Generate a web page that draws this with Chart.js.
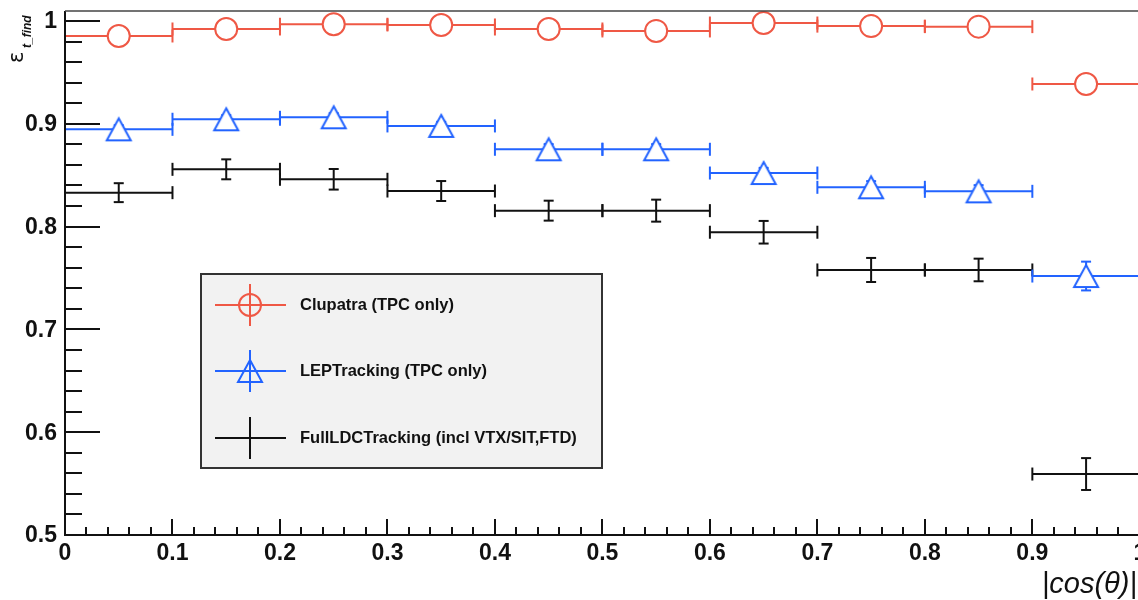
<!DOCTYPE html>
<html lang="en">

<head>
    <meta charset="UTF-8">
    <title>tracking efficiency vs |cos(theta)|</title>
    <style>
        body { margin: 0; background: #ffffff; }
    </style>
</head>

<body>
    <canvas id="myChart" width="1138" height="600"></canvas>

    <script src="https://cdn.jsdelivr.net/npm/chart.js"></script>
    <script>
        // bin 중심 |cos(theta)|, bin 폭 0.1
        let v_binCenters = [0.05, 0.15, 0.25, 0.35, 0.45, 0.55, 0.65, 0.75, 0.85, 0.95];
        let v_binHalf = 0.05;

        let v_clupatra = [0.9854, 0.9922, 0.9968, 0.9961, 0.9922, 0.9903, 0.9980, 0.9950, 0.9945, 0.9387];
        let v_clupatraErr = [0.003, 0.003, 0.003, 0.003, 0.003, 0.003, 0.003, 0.003, 0.003, 0.004];

        let v_lep = [0.8946, 0.9044, 0.9063, 0.8979, 0.8752, 0.8752, 0.8521, 0.8382, 0.8343, 0.7519];
        let v_lepErr = [0.004, 0.004, 0.004, 0.004, 0.005, 0.005, 0.005, 0.006, 0.006, 0.014];

        let v_fullLdc = [0.8330, 0.8557, 0.8460, 0.8346, 0.8155, 0.8155, 0.7945, 0.7578, 0.7578, 0.5593];
        let v_fullLdcErr = [0.0092, 0.0097, 0.0100, 0.0097, 0.0097, 0.0107, 0.0110, 0.0117, 0.0110, 0.0155];

        let v_xTickLabels = ["0", "0.1", "0.2", "0.3", "0.4", "0.5", "0.6", "0.7", "0.8", "0.9", "1"];
        let v_yTickLabels = ["0.5", "0.6", "0.7", "0.8", "0.9", "1"];

        let v_legendLabels = ["Clupatra (TPC only)", "LEPTracking (TPC only)", "FullLDCTracking (incl VTX/SIT,FTD)"];
        let v_colors = ["#ef5845", "#2263ff", "#111111"];

        // 삼각형 마커 (속 흰색)
        function makeTriangle(color, fill) {
            let c = document.createElement("canvas");
            c.width = 30; c.height = 30;
            let t = c.getContext("2d");
            t.beginPath();
            t.moveTo(15, 4);
            t.lineTo(27, 26);
            t.lineTo(3, 26);
            t.closePath();
            if (fill) { t.fillStyle = fill; t.fill(); }
            t.strokeStyle = color;
            t.lineWidth = 2;
            t.stroke();
            return c;
        }
        let v_triangle = makeTriangle(v_colors[1], "#ffffff");
        let v_triangleLegend = makeTriangle(v_colors[1], null);

        function toPoints(vals) {
            let arr = [];
            for (let i = 0; i < vals.length; i++) {
                arr.push({ x: v_binCenters[i], y: vals[i] });
            }
            return arr;
        }

        function line(ctx, x1, y1, x2, y2) {
            ctx.beginPath();
            ctx.moveTo(x1, y1);
            ctx.lineTo(x2, y2);
            ctx.stroke();
        }

        // x, y 에러바 (bin 끝 눈금 포함)
        function drawErrors(chart, vals, errs, color) {
            let ctx = chart.ctx;
            let xs = chart.scales.x;
            let ys = chart.scales.y;
            ctx.save();
            ctx.strokeStyle = color;
            ctx.lineWidth = 2;
            for (let i = 0; i < vals.length; i++) {
                let px = xs.getPixelForValue(v_binCenters[i]);
                let x1 = xs.getPixelForValue(v_binCenters[i] - v_binHalf);
                let x2 = xs.getPixelForValue(v_binCenters[i] + v_binHalf);
                let py = ys.getPixelForValue(vals[i]);
                let pt = ys.getPixelForValue(vals[i] + errs[i]);
                let pb = ys.getPixelForValue(vals[i] - errs[i]);
                line(ctx, x1, py, x2, py);
                line(ctx, x1, py - 6.5, x1, py + 6.5);
                line(ctx, x2, py - 6.5, x2, py + 6.5);
                line(ctx, px, pt, px, pb);
                line(ctx, px - 5, pt, px + 5, pt);
                line(ctx, px - 5, pb, px + 5, pb);
            }
            ctx.restore();
        }

        const v_rootStyle = {
            id: "rootStyle",
            beforeDatasetsDraw(chart) {
                drawErrors(chart, v_fullLdc, v_fullLdcErr, v_colors[2]);
                drawErrors(chart, v_lep, v_lepErr, v_colors[1]);
                drawErrors(chart, v_clupatra, v_clupatraErr, v_colors[0]);
            },
            afterDraw(chart) {
                let ctx = chart.ctx;
                let a = chart.chartArea;
                let xs = chart.scales.x;
                let ys = chart.scales.y;

                ctx.save();
                // 프레임
                ctx.strokeStyle = "#111";
                ctx.lineWidth = 2;
                line(ctx, a.left, a.top, a.left, a.bottom + 1);
                line(ctx, a.left - 1, a.bottom, a.right, a.bottom);
                ctx.strokeStyle = "#444";
                ctx.lineWidth = 1.5;
                line(ctx, a.left, a.top, a.right, a.top);

                // 눈금 (안쪽으로)
                ctx.strokeStyle = "#111";
                ctx.lineWidth = 2;
                for (let k = 0; k <= 25; k++) {
                    let v = 0.5 + k * 0.02;
                    let py = Math.round(ys.getPixelForValue(v));
                    let len = (k % 5 == 0) ? 35 : 17;
                    if (k > 0) line(ctx, a.left, py, a.left + len, py);
                }
                for (let k = 0; k <= 50; k++) {
                    let v = k * 0.02;
                    let px = Math.round(xs.getPixelForValue(v));
                    let len = (k % 5 == 0) ? 16 : 8;
                    if (k > 0) line(ctx, px, a.bottom, px, a.bottom - len);
                }

                // 눈금 라벨
                ctx.fillStyle = "#111";
                ctx.font = "bold 23px 'Liberation Sans', Arial, sans-serif";
                ctx.textAlign = "right";
                ctx.textBaseline = "middle";
                for (let k = 0; k < v_yTickLabels.length; k++) {
                    let py = ys.getPixelForValue(parseFloat(v_yTickLabels[k]));
                    ctx.fillText(v_yTickLabels[k], 57, py + 1);
                }
                ctx.textAlign = "center";
                ctx.textBaseline = "top";
                for (let k = 0; k < v_xTickLabels.length; k++) {
                    let px = xs.getPixelForValue(parseFloat(v_xTickLabels[k]));
                    ctx.fillText(v_xTickLabels[k], px, 542);
                }

                // 축 제목
                ctx.textAlign = "right";
                ctx.textBaseline = "alphabetic";
                ctx.font = "italic 29px 'Liberation Sans', Arial, sans-serif";
                ctx.fillText("|cos(θ)|", 1137, 593);

                ctx.save();
                ctx.translate(23, 63);
                ctx.rotate(-Math.PI / 2);
                ctx.textAlign = "left";
                ctx.font = "21px 'DejaVu Sans', sans-serif";
                ctx.fillText("ε", 0, 0);
                ctx.font = "italic bold 12px 'Liberation Sans', Arial, sans-serif";
                ctx.fillText("t_find", 15, 8);
                ctx.restore();

                // 범례
                let bx = 201, by = 274, bw = 401, bh = 194;
                ctx.fillStyle = "#f2f2f2";
                ctx.fillRect(bx, by, bw, bh);
                ctx.strokeStyle = "#333";
                ctx.lineWidth = 2;
                ctx.strokeRect(bx, by, bw, bh);

                let rows = [305, 371, 438];
                for (let k = 0; k < 3; k++) {
                    let cy = rows[k];
                    ctx.strokeStyle = v_colors[k];
                    ctx.lineWidth = 2;
                    line(ctx, 215, cy, 286, cy);
                    line(ctx, 250, cy - 21, 250, cy + 21);
                    if (k == 0) {
                        ctx.beginPath();
                        ctx.arc(250, cy, 11, 0, Math.PI * 2);
                        ctx.stroke();
                    }
                    if (k == 1) {
                        ctx.drawImage(v_triangleLegend, 250 - 15, cy - 15);
                    }
                    ctx.fillStyle = "#111";
                    ctx.font = "bold 16.5px 'Liberation Sans', Arial, sans-serif";
                    ctx.textAlign = "left";
                    ctx.textBaseline = "middle";
                    ctx.fillText(v_legendLabels[k], 300, cy);
                }
                ctx.restore();
            }
        };

        const ctx = document.getElementById("myChart");

        new Chart(ctx, {
            type: "scatter",
            data: {
                datasets: [
                    {
                        label: v_legendLabels[0],
                        data: toPoints(v_clupatra),
                        pointStyle: "circle",
                        pointRadius: 11,
                        borderWidth: 2,
                        borderColor: v_colors[0],
                        backgroundColor: "#ffffff"
                    },
                    {
                        label: v_legendLabels[1],
                        data: toPoints(v_lep),
                        pointStyle: v_triangle,
                        pointRadius: 12,
                        borderColor: v_colors[1],
                        backgroundColor: "#ffffff"
                    },
                    {
                        label: v_legendLabels[2],
                        data: toPoints(v_fullLdc),
                        pointRadius: 0,
                        borderColor: v_colors[2]
                    }
                ]
            },
            options: {
                responsive: false,
                animation: false,
                layout: {
                    autoPadding: false,
                    padding: { left: 65, right: 0, top: 11, bottom: 65 }
                },
                plugins: {
                    legend: { display: false },
                    tooltip: { enabled: false }
                },
                scales: {
                    x: { type: "linear", min: 0, max: 0.9983, display: false },
                    y: { type: "linear", min: 0.5, max: 1.0097, display: false }
                }
            },
            plugins: [v_rootStyle]
        });
    </script>

</body>

</html>
